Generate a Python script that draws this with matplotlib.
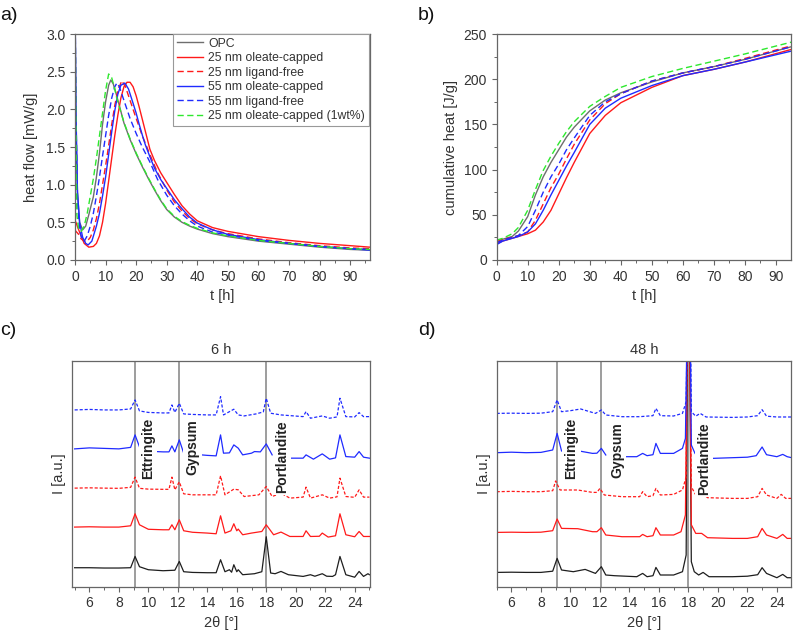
import matplotlib
matplotlib.use("Agg")
import matplotlib.pyplot as plt
from matplotlib.ticker import MultipleLocator

plt.rcParams['font.family'] = ['Liberation Sans', 'DejaVu Sans']
plt.rcParams['font.size'] = 9

# ---------------- a) heat flow ----------------
t_opc = [0, 0.3, 0.8, 1.5, 2.5, 3.5, 4.5, 6, 7, 8, 9, 10, 11, 11.7, 12.5, 13.5, 14.5, 16, 18, 20, 22, 24, 26, 28, 30, 32.5, 35, 37.5, 40, 45, 50, 60, 70, 80, 90, 96.5]
hf_opc = [3.5, 1.8, 0.9, 0.5, 0.4, 0.45, 0.6, 0.84, 1.1, 1.42, 1.8, 2.1, 2.32, 2.39, 2.34, 2.2, 2.05, 1.82, 1.6, 1.41, 1.24, 1.08, 0.93, 0.79, 0.67, 0.57, 0.5, 0.45, 0.41, 0.35, 0.31, 0.25, 0.21, 0.17, 0.14, 0.13]

t_r25 = [0, 0.3, 1, 2, 3, 4.5, 6, 7, 8, 9, 10, 11, 12, 13, 14, 15, 16, 17, 18, 19, 20, 21, 22, 23, 24.5, 26, 28, 30, 32.5, 35, 37.5, 40, 45, 50, 60, 70, 80, 90, 96.5]
hf_r25 = [0.52, 0.5, 0.42, 0.32, 0.22, 0.17, 0.18, 0.22, 0.32, 0.5, 0.75, 1.05, 1.35, 1.65, 1.92, 2.15, 2.3, 2.36, 2.36, 2.3, 2.18, 2.03, 1.87, 1.71, 1.47, 1.32, 1.16, 1.03, 0.87, 0.72, 0.61, 0.52, 0.43, 0.38, 0.31, 0.26, 0.22, 0.19, 0.17]

t_r25lf = [0, 0.3, 1, 2, 3, 4, 5, 6, 7, 8, 9, 10, 11, 12, 13, 14, 15.3, 16.5, 18, 20, 22, 24.5, 27, 30, 32.5, 35, 37.5, 40, 45, 50, 60, 70, 80, 90, 96.5]
hf_r25lf = [0.4, 0.38, 0.35, 0.28, 0.25, 0.25, 0.3, 0.4, 0.55, 0.75, 1.0, 1.25, 1.52, 1.8, 2.05, 2.25, 2.38, 2.3, 2.12, 1.88, 1.65, 1.4, 1.16, 0.93, 0.77, 0.65, 0.55, 0.48, 0.4, 0.35, 0.28, 0.23, 0.19, 0.16, 0.15]

t_b55 = [0, 0.3, 0.8, 1.5, 2.5, 3.5, 4.3, 5.5, 7, 8, 9, 10, 11, 12, 13, 14, 15, 16.3, 17.5, 19, 20, 21, 22, 23, 24.5, 26, 28, 30, 32.5, 35, 37.5, 40, 45, 50, 60, 70, 80, 90, 96.5]
hf_b55 = [3.5, 2.0, 0.9, 0.5, 0.3, 0.22, 0.2, 0.25, 0.45, 0.62, 0.85, 1.1, 1.4, 1.7, 1.98, 2.2, 2.32, 2.35, 2.27, 2.08, 1.95, 1.8, 1.66, 1.53, 1.37, 1.22, 1.07, 0.95, 0.8, 0.68, 0.57, 0.49, 0.4, 0.34, 0.27, 0.22, 0.18, 0.15, 0.13]

t_b55lf = [0, 0.3, 0.8, 1.5, 2.2, 3, 4, 5, 6, 7, 8, 9, 10, 11, 12, 13, 13.7, 14.5, 16, 18, 20, 22, 24.5, 27, 30, 32.5, 35, 37.5, 40, 45, 50, 60, 70, 80, 90, 96.5]
hf_b55lf = [3.5, 2.0, 0.8, 0.4, 0.28, 0.25, 0.32, 0.45, 0.62, 0.85, 1.1, 1.38, 1.65, 1.92, 2.15, 2.3, 2.35, 2.3, 2.12, 1.88, 1.68, 1.5, 1.3, 1.07, 0.86, 0.72, 0.61, 0.52, 0.45, 0.37, 0.33, 0.26, 0.22, 0.18, 0.15, 0.14]

t_g1 = [0, 0.2, 0.6, 1.2, 2, 3, 4, 5, 6, 7, 8, 9, 10, 11, 12, 13, 14, 16, 18, 20, 22, 24, 26, 28, 30, 32.5, 35, 37.5, 40, 45, 50, 60, 70, 80, 90, 96.5]
hf_g1 = [3.5, 2.2, 0.6, 0.4, 0.38, 0.45, 0.62, 0.85, 1.08, 1.35, 1.65, 1.95, 2.25, 2.47, 2.42, 2.27, 2.1, 1.83, 1.61, 1.42, 1.25, 1.09, 0.94, 0.8, 0.68, 0.58, 0.51, 0.46, 0.42, 0.36, 0.32, 0.26, 0.22, 0.18, 0.15, 0.14]

# ---------------- b) cumulative heat ----------------
t_cum = [0, 2, 5, 7, 10, 12.5, 15, 17.5, 20, 22.5, 25, 30, 35, 40, 50, 60, 70, 80, 96]
q_opc = [20, 23, 26, 32, 48, 72, 92, 108, 122, 136, 147, 165, 177, 185, 197, 207, 214, 222, 237]
q_r25 = [18, 21, 24, 26, 29, 33, 42, 55, 73, 91, 108, 140, 160, 174, 191, 204, 211, 219, 234]
q_r25lf = [20, 23, 25, 27, 31, 44, 62, 80, 95, 112, 128, 155, 173, 184, 198, 207, 214, 223, 238]
q_b55 = [17, 21, 24, 26, 31, 40, 55, 72, 88, 104, 119, 150, 168, 179, 193, 204, 211, 219, 232]
q_b55lf = [19, 22, 25, 27, 37, 55, 75, 92, 106, 122, 135, 160, 175, 184, 198, 207, 214, 222, 237]
q_g1 = [22, 24, 29, 36, 55, 78, 99, 115, 129, 142, 153, 170, 181, 191, 203, 212, 220, 228, 242]

labels = ['OPC', '25 nm oleate-capped', '25 nm ligand-free', '55 nm oleate-capped',
          '55 nm ligand-free', '25 nm oleate-capped (1wt%)']

# ---------------- c) XRD 6 h ----------------
c_tt_opc = [5, 6, 7, 8, 8.8, 9.1, 9.4, 10, 11, 11.8, 12.1, 12.4, 13, 14, 14.6, 14.9, 15.2, 15.5, 15.65, 15.8, 16.0, 16.1, 16.4, 17.2, 17.7, 18.0, 18.3, 18.6, 19.0, 19.5, 20.5, 21, 21.3, 21.8, 22.1, 22.5, 22.7, 23.0, 23.4, 24, 24.3, 24.6, 24.9, 25]
c_i_opc = [19, 19, 18.7, 18.7, 19, 30.3, 20, 17, 16, 16.5, 25.3, 15, 14.3, 14, 14, 27, 15, 17, 14.5, 22, 15, 17, 12, 13, 15, 50, 13.7, 13, 15.3, 12, 10.3, 12, 10.5, 13, 10.5, 10.3, 12, 30.3, 12, 9.5, 15.3, 10.3, 13, 12]

c_tt_r25 = [5, 6, 7, 8, 8.8, 9.1, 9.4, 10, 11, 11.4, 11.6, 11.8, 12.1, 12.4, 13, 14, 14.6, 14.9, 15.2, 15.6, 15.8, 16.0, 16.1, 16.4, 17, 17.7, 18.0, 18.5, 19, 19.6, 20.5, 20.7, 21, 21.6, 21.8, 22.2, 22.7, 23.0, 23.4, 24, 24.3, 24.6, 25]
c_i_r25 = [59.7, 60, 59.7, 59.7, 61, 73, 62, 57.5, 57, 57, 62, 57, 67, 56, 54.5, 53.7, 53, 71, 53.7, 56, 63, 56, 57.7, 52, 53.7, 55.3, 62, 52, 54.7, 50.3, 50.3, 56, 50.3, 50.5, 53.7, 49.7, 51, 73, 52, 50, 55.3, 50.3, 50.3]

c_tt_r25lf = [5, 6, 7, 8, 8.8, 9.1, 9.4, 10, 11, 11.4, 11.6, 11.8, 12.1, 12.4, 13, 14, 14.6, 14.9, 15.2, 15.8, 16.1, 16.5, 17.5, 18.0, 18.4, 19, 19.6, 20.5, 20.7, 21, 21.8, 22.3, 22.8, 23.0, 23.4, 24, 24.3, 24.6, 25]
c_i_r25lf = [98.7, 99, 98.7, 98.5, 99.5, 109.7, 98.5, 97.7, 97.5, 97.5, 109.7, 97, 105, 93, 92, 92, 92, 111, 92, 97.7, 97, 90.3, 92, 100.3, 90.3, 93.7, 88.7, 89.7, 99.7, 88.7, 92, 88.7, 90, 108.7, 90.3, 89.5, 97, 89.7, 89.7]

c_tt_b55 = [5, 6, 7, 8, 8.8, 9.1, 9.4, float('nan'), 10.55, 11, 11.4, 11.6, 11.8, 12.1, 12.4, float('nan'), 13.6, 14, 14.6, 14.9, 15.1, 15.5, 15.8, 16.1, 16.4, 17, 17.2, 17.6, 18.0, 18.4, float('nan'), 19.6, 20.5, 20.7, 21.2, 21.8, 22.3, 22.7, 23.0, 23.4, 24, 24.3, 24.6, 25]
c_i_b55 = [138, 139, 138.5, 138, 139.5, 152, 140, float('nan'), 135.3, 135, 135, 141, 135, 147, 133.7, float('nan'), 132, 131.5, 131, 152, 133.7, 134, 142, 138.7, 132, 133.7, 135.3, 135, 143, 132, float('nan'), 128.7, 128.7, 132, 127.7, 133, 127.7, 129, 152, 130.3, 129.7, 135.3, 129.7, 128.7]

c_tt_b55lf = [5, 6, 7, 8, 8.8, 9.1, 9.4, 10, 11, 11.4, 11.6, 11.8, 12.1, 12.4, 13, 14, 14.6, 14.9, 15.1, 15.8, 16.1, 16.5, 17.3, 17.8, 18.0, 18.3, 19, 20.5, 20.7, 21, 21.8, 22.3, 22.8, 23.0, 23.4, 24, 24.3, 24.6, 25]
c_i_b55lf = [177, 177.5, 177, 177, 178, 187, 176, 174.5, 174, 174, 182, 174.5, 183.7, 173, 172.5, 172, 172, 190.3, 172, 177.7, 172, 171, 173, 175, 188.7, 173.7, 172, 170.3, 175.3, 168.7, 171, 168.7, 170, 188.7, 170.3, 170, 174.3, 170.3, 170.3]

# ---------------- d) XRD 48 h ----------------
d_tt_opc = [5, 6, 7, 8, 8.8, 9.1, 9.4, 10.2, 11, 11.7, 12.1, 12.4, 13, 14.5, 14.9, 15.2, 15.6, 15.8, 16.1, 17, 17.6, 17.85, 18.0, 18.2, 18.4, 18.7, 19.0, 19.4, 21, 22, 22.7, 23.0, 23.3, 24, 24.4, 24.7, 25]
d_i_opc = [14.3, 14.5, 14.3, 14.3, 15.5, 28.3, 16.7, 15, 17.3, 13.3, 20, 11.7, 11, 10, 13.3, 10, 11, 19.3, 11.7, 11.7, 15, 31.7, 400, 25, 15, 11.7, 14.3, 10, 10, 10.5, 12, 19, 13.3, 9, 12.3, 9, 9]

d_tt_r25 = [5, 6, 7, 8, 8.8, 9.1, 9.4, 10.5, 11.5, 11.8, 12.1, 12.4, 13.5, 14.7, 14.9, 15.2, 15.6, 15.8, 16.1, 17, 17.5, 17.8, 18.02, 18.2, 18.5, 18.9, 19.3, 21, 22, 22.7, 23.0, 23.3, 24, 24.4, 24.7, 25]
d_i_r25 = [54.3, 54.5, 54.3, 54.5, 56, 67.7, 58.3, 58, 55, 55, 59, 51.7, 50, 50, 52.3, 50, 51, 59, 51.7, 51.7, 55, 71.7, 400, 62, 53.3, 53.3, 49, 48.3, 48.3, 50, 58.3, 51.7, 48.3, 52.3, 48.3, 48.3]

d_tt_r25lf = [5, 6, 7, 8, 8.8, 9.0, 9.3, 10.5, 11.5, 11.8, 12.0, 12.3, 13.5, 14.7, 14.9, 15.2, 15.6, 15.8, 16.1, 17, 17.6, 17.85, 18.0, 18.2, 18.5, 18.9, 19.3, 21, 22, 22.7, 23.0, 23.3, 24, 24.3, 24.6, 25]
d_i_r25lf = [95, 95.3, 95, 95, 96, 105.7, 96.7, 96.7, 94.3, 94.3, 98.3, 91.7, 90, 90, 95, 90, 91, 98.3, 91.7, 92.3, 96.7, 110, 400, 100, 91.7, 94.3, 89, 88.3, 88.3, 90, 98.3, 91.7, 88.3, 92.3, 88.3, 88.3]

d_tt_b55 = [5, 6, 7, 8, 8.8, 9.1, 9.4, float('nan'), 10.6, 11.5, 11.8, 12.1, 12.4, float('nan'), 13.6, 14.5, 14.9, 15.2, 15.6, 15.8, 16.1, 17, 17.6, 17.8, 18.05, 18.2, 18.45, float('nan'), 19.6, 21, 22, 22.6, 23.0, 23.3, 24, 24.4, 24.7, 25]
d_i_b55 = [134, 134.5, 134, 134.3, 136.7, 153.3, 135.7, float('nan'), 135.7, 133.3, 133.5, 138.3, 131.7, float('nan'), 130, 130, 133.3, 131, 132, 143.3, 133.3, 133.3, 138.3, 148.3, 400, 141.7, 133.3, float('nan'), 128.3, 129, 129.5, 131, 139.7, 132, 130, 132.3, 130, 129]

d_tt_b55lf = [5, 6, 7, 8, 8.8, 9.1, 9.4, 10.0, 10.7, 11.7, 12.1, 12.4, 13.5, 14.7, 15.6, 15.8, 16.1, 17, 17.6, 17.85, 18.05, 18.2, 18.5, 18.8, 19.2, 21, 22, 22.7, 23.0, 23.3, 24, 25]
d_i_b55lf = [173.3, 173.5, 173.3, 173.5, 175, 186.7, 175, 176, 177.7, 173.3, 176.7, 171.7, 170, 170, 171, 178.3, 171, 170.7, 173.3, 185, 400, 175, 170.5, 173.3, 169.7, 169.3, 169.7, 171, 177, 170.5, 169.7, 169.7]

phase_pos = [9.1, 12.1, 18.0]
phase_names = ['Ettringite', 'Gypsum', 'Portlandite']
c_label_x = [10.0, 13.0, 19.05]
c_label_y = [139, 140, 130]
d_label_x = [10.07, 13.18, 19.08]
d_label_y = [138.4, 136.7, 128.4]

# ---------------- styles ----------------
GREY = '#6e6e6e'
RED = '#ff1a1a'
BLUE = '#1f2bff'
GREEN = '#2ee82e'
DASH = (0, (4.5, 2.5))
XDASH = (0, (2.5, 1.5))
spine_col = '#666666'
txt_col = '#333333'

fig = plt.figure(figsize=(7.93, 6.31), dpi=100)
ax_a = fig.add_axes([0.0946, 0.588, 0.372, 0.358])
ax_b = fig.add_axes([0.6263, 0.588, 0.371, 0.358])
ax_c = fig.add_axes([0.0904, 0.0702, 0.3762, 0.3577])
ax_d = fig.add_axes([0.6263, 0.0702, 0.371, 0.3582])


def style(ax):
    for s in ax.spines.values():
        s.set_color(spine_col)
        s.set_linewidth(0.9)
    ax.tick_params(which='both', direction='out', color=spine_col, labelcolor=txt_col,
                   labelsize=10, top=False, right=False)
    ax.tick_params(which='major', length=3.5, width=0.8)
    ax.tick_params(which='minor', length=2, width=0.7)


# a)
ax_a.plot(t_opc, hf_opc, color=GREY, lw=1.0, label=labels[0])
ax_a.plot(t_r25, hf_r25, color=RED, lw=1.0, label=labels[1])
ax_a.plot(t_r25lf, hf_r25lf, color=RED, lw=1.0, ls=DASH, label=labels[2])
ax_a.plot(t_b55, hf_b55, color=BLUE, lw=1.0, label=labels[3])
ax_a.plot(t_b55lf, hf_b55lf, color=BLUE, lw=1.0, ls=DASH, label=labels[4])
ax_a.plot(t_g1, hf_g1, color=GREEN, lw=1.0, ls=DASH, label=labels[5])
ax_a.set_xlim(0, 96.5)
ax_a.set_ylim(0, 3.0)
ax_a.xaxis.set_major_locator(MultipleLocator(10))
ax_a.xaxis.set_minor_locator(MultipleLocator(5))
ax_a.yaxis.set_major_locator(MultipleLocator(0.5))
ax_a.yaxis.set_minor_locator(MultipleLocator(0.25))
ax_a.set_xlabel('t [h]', color=txt_col, fontsize=10.5)
ax_a.set_ylabel('heat flow [mW/g]', color=txt_col, fontsize=10.5, labelpad=6)
style(ax_a)
leg = ax_a.legend(loc='upper right', bbox_to_anchor=(0.995, 1.0), borderaxespad=0,
                  fontsize=8.8, handlelength=2.1, labelspacing=0.2, handletextpad=0.45,
                  borderpad=0.3, fancybox=False, framealpha=1)
leg.get_frame().set_edgecolor('#999999')
leg.get_frame().set_linewidth(0.8)
for tx in leg.get_texts():
    tx.set_color(txt_col)

# b)
ax_b.plot(t_cum, q_opc, color=GREY, lw=1.0)
ax_b.plot(t_cum, q_r25, color=RED, lw=1.0)
ax_b.plot(t_cum, q_r25lf, color=RED, lw=1.0, ls=DASH)
ax_b.plot(t_cum, q_b55, color=BLUE, lw=1.0)
ax_b.plot(t_cum, q_b55lf, color=BLUE, lw=1.0, ls=DASH)
ax_b.plot(t_cum, q_g1, color=GREEN, lw=1.0, ls=DASH)
ax_b.set_xlim(0, 94.8)
ax_b.set_ylim(0, 250)
ax_b.xaxis.set_major_locator(MultipleLocator(10))
ax_b.xaxis.set_minor_locator(MultipleLocator(5))
ax_b.yaxis.set_major_locator(MultipleLocator(50))
ax_b.yaxis.set_minor_locator(MultipleLocator(25))
ax_b.set_xlabel('t [h]', color=txt_col, fontsize=10.5)
ax_b.set_ylabel('cumulative heat [J/g]', color=txt_col, fontsize=10.5)
style(ax_b)


def xrd(ax, data, lab_x, lab_y, title, xlim):
    for p in phase_pos:
        ax.axvline(p, color='#8c8c8c', lw=1.2, zorder=1)
    (tt0, i0), (tt1, i1), (tt2, i2), (tt3, i3), (tt4, i4) = data
    ax.plot(tt0, i0, color='#1e1e1e', lw=0.9, zorder=2)
    ax.plot(tt1, i1, color=RED, lw=0.9, zorder=2)
    ax.plot(tt2, i2, color=RED, lw=0.9, ls=XDASH, zorder=2)
    ax.plot(tt3, i3, color=BLUE, lw=0.9, zorder=2)
    ax.plot(tt4, i4, color=BLUE, lw=0.9, ls=XDASH, zorder=2)
    for name, x, y in zip(phase_names, lab_x, lab_y):
        ax.text(x, y, name, rotation=90, ha='center', va='center', fontsize=10,
                fontweight='bold', color='#222222', zorder=3,
                bbox=dict(facecolor='white', edgecolor='none', pad=1.5))
    ax.set_xlim(*xlim)
    ax.set_ylim(0, 226)
    ax.set_yticks([])
    ax.xaxis.set_major_locator(MultipleLocator(2))
    ax.xaxis.set_minor_locator(MultipleLocator(1))
    ax.set_xlabel('2θ [°]', color=txt_col, fontsize=10.5)
    ax.set_ylabel('I [a.u.]', color=txt_col, fontsize=10.5)
    ax.set_title(title, color=txt_col, fontsize=10.5, pad=5)
    style(ax)


xrd(ax_c, [(c_tt_opc, c_i_opc), (c_tt_r25, c_i_r25), (c_tt_r25lf, c_i_r25lf),
           (c_tt_b55, c_i_b55), (c_tt_b55lf, c_i_b55lf)], c_label_x, c_label_y, '6 h', (4.8, 25.04))
xrd(ax_d, [(d_tt_opc, d_i_opc), (d_tt_r25, d_i_r25), (d_tt_r25lf, d_i_r25lf),
           (d_tt_b55, d_i_b55), (d_tt_b55lf, d_i_b55lf)], d_label_x, d_label_y, '48 h', (5, 24.95))

fig.text(0.0, 0.976, 'a)', fontsize=14, va='center', ha='left', color='#111111')
fig.text(0.527, 0.976, 'b)', fontsize=14, va='center', ha='left', color='#111111')
fig.text(0.0, 0.477, 'c)', fontsize=14, va='center', ha='left', color='#111111')
fig.text(0.527, 0.477, 'd)', fontsize=14, va='center', ha='left', color='#111111')

fig.savefig('out.png', dpi=100)
